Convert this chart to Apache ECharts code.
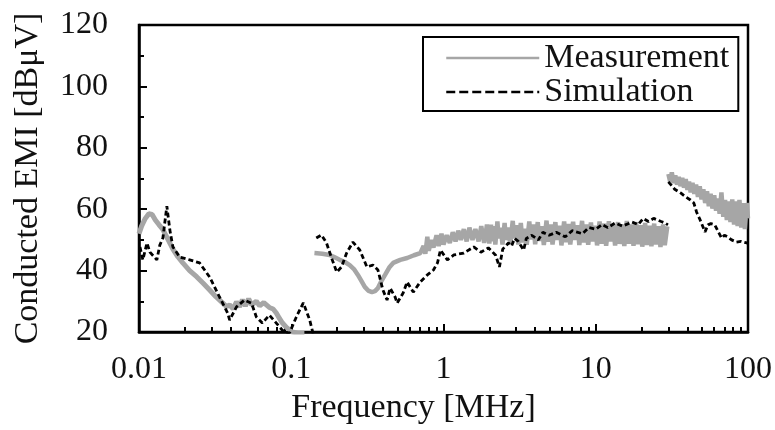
<!DOCTYPE html>
<html>
<head>
<meta charset="utf-8">
<script src="https://cdn.jsdelivr.net/npm/echarts@6/dist/echarts.min.js"></script>
<style>
  html, body { margin: 0; padding: 0; background: #fff; }
  #chart { width: 775px; height: 430px; }
</style>
</head>
<body>
<div id="chart"></div>
<script>
// Conducted EMI spectra: [frequency in MHz, level in dBuV]
// Measured spectrum, three receiver bands
const measLow = [
  [0.0100, 52], [0.0104, 54.5], [0.0110, 57], [0.0116, 58.5], [0.0122, 58.3],
  [0.0128, 56.5], [0.0135, 55], [0.0143, 53.5], [0.0152, 51], [0.0167, 47],
  [0.0180, 44.5], [0.0194, 42.5], [0.0215, 40], [0.0239, 38], [0.0265, 35.8],
  [0.0291, 33.7], [0.0320, 31.5], [0.0354, 29.5], [0.0375, 28.3], [0.0394, 28.8],
  [0.0415, 27.5], [0.0437, 29.8], [0.0458, 28.2], [0.0478, 30.5], [0.0500, 28.5],
  [0.0525, 30.8], [0.0550, 28.8], [0.0590, 30], [0.0620, 28.5], [0.0660, 29.6],
  [0.0718, 28], [0.0760, 27.5], [0.0798, 26.2], [0.0835, 24.5], [0.0873, 23],
  [0.0930, 21.5], [0.1015, 20], [0.1100, 19.6], [0.1220, 19.6]
];
const measMid = [
  [0.142, 45.7], [0.160, 45.5], [0.1785, 45.1], [0.190, 44.5], [0.208, 43.5],
  [0.225, 42.8], [0.242, 41.8], [0.258, 40.5], [0.274, 38.6], [0.290, 36.5],
  [0.304, 34.7], [0.320, 33.5], [0.339, 33], [0.355, 33.3], [0.371, 34.3],
  [0.390, 36.5], [0.413, 38.6], [0.440, 41], [0.467, 42.5], [0.520, 43.5],
  [0.577, 44.1], [0.640, 45], [0.704, 45.7], [0.740, 48], [0.760, 45.5],
  [0.783, 51], [0.800, 46.5], [0.830, 50], [0.859, 47.5], [0.900, 51.5],
  [0.930, 48], [0.970, 52], [1.00, 48.5], [1.05, 51.5], [1.10, 49],
  [1.15, 52.5], [1.20, 49.5], [1.25, 53], [1.30, 50], [1.36, 53.5],
  [1.42, 49.5], [1.48, 54], [1.55, 50], [1.62, 53.5], [1.70, 49.5],
  [1.77, 54.5], [1.85, 49], [1.93, 55], [2.00, 48.8], [2.05, 55],
  [2.09, 49.6], [2.15, 54.5], [2.19, 48.5], [2.26, 56], [2.30, 50.5],
  [2.38, 54], [2.44, 48.5], [2.52, 55.5], [2.57, 50], [2.68, 54],
  [2.74, 48.7], [2.85, 56.2], [2.91, 50.5], [3.03, 54.8], [3.10, 48.5],
  [3.22, 55.5], [3.30, 49.2], [3.43, 53.6], [3.52, 48.4], [3.66, 56],
  [3.75, 50.2], [3.90, 55], [4.00, 48.6], [4.16, 55.8], [4.27, 49.7],
  [4.44, 54.5], [4.56, 48.3], [4.75, 56.3], [4.86, 49.4], [5.07, 55],
  [5.20, 48.5], [5.43, 55.8], [5.55, 50], [5.80, 54.6], [5.95, 48.2],
  [6.20, 56], [6.36, 49.3], [6.63, 55.2], [6.80, 48.5], [7.10, 55.9],
  [7.28, 50], [7.60, 54.8], [7.80, 48.3], [8.13, 56.2], [8.33, 49.2],
  [8.70, 55], [8.92, 48.4], [9.30, 55.7], [9.52, 49.5], [9.95, 54.6],
  [10.2, 48.2], [10.6, 56], [10.9, 48.8], [11.4, 55.3], [11.7, 48.1],
  [12.2, 56.1], [12.5, 49.5], [13.0, 54.8], [13.4, 48.2], [14.0, 55.8],
  [14.4, 48.7], [15.0, 55], [15.4, 48], [16.0, 56.2], [16.5, 48.8],
  [17.2, 55], [17.7, 48.1], [18.4, 55.8], [18.9, 48.6], [19.7, 54.8],
  [20.2, 47.8], [21.1, 55.5], [21.6, 48.4], [22.6, 54.6], [23.2, 47.9],
  [24.2, 55.3], [24.8, 48.5], [25.9, 54.5], [26.6, 47.7], [27.7, 55],
  [28.4, 48.3], [29.5, 54.4]
];
const measHigh = [
  [30.0, 71.5], [30.8, 69], [31.6, 72], [32.4, 68.5], [33.3, 71],
  [34.2, 68], [35.1, 70.5], [36.0, 67.5], [37.0, 70.2], [38.0, 67],
  [39.0, 69.8], [40.0, 66.3], [41.0, 69], [42.0, 65.5], [43.2, 68.6],
  [44.4, 65], [45.6, 68], [46.9, 64], [48.2, 67.5], [49.5, 63.2],
  [50.9, 66.5], [52.3, 62], [53.8, 65.8], [55.3, 61], [56.8, 65],
  [58.4, 60.2], [60.0, 64.5], [61.7, 59.5], [63.4, 63.5], [65.1, 58.5],
  [66.9, 65.5], [68.8, 57.5], [70.7, 63], [72.6, 56.5], [74.6, 62.5],
  [76.7, 55.8], [78.8, 63.2], [81.0, 55], [83.2, 62.5], [85.5, 54.5],
  [87.9, 63], [90.3, 54], [92.8, 62], [95.4, 53.5], [98.0, 62], [100, 57]
];

// Simulated spectrum, same bands
const simLow = [
  [0.01015, 47.7], [0.0106, 43.5], [0.01128, 49], [0.0118, 46], [0.0131, 43.5],
  [0.0137, 48.3], [0.01435, 50.6], [0.01524, 61], [0.01595, 53.2], [0.0167, 47.7],
  [0.01853, 44.4], [0.0215, 43.5], [0.0250, 42.5], [0.0291, 37.9], [0.0338, 31.4],
  [0.0382, 26.2], [0.0394, 23.9], [0.0437, 28.2], [0.0493, 30.4], [0.0548, 29.4],
  [0.0590, 24.9], [0.0646, 22.9], [0.0718, 25.5], [0.0798, 22.9], [0.0873, 20.6],
  [0.0970, 19.5], [0.1080, 24.9], [0.1200, 29.5], [0.1320, 24], [0.1400, 19]
];
const simMid = [
  [0.146, 50.6], [0.158, 51.6], [0.1705, 49], [0.184, 44.1], [0.199, 39.5],
  [0.214, 41.2], [0.231, 45.7], [0.254, 49.3], [0.282, 46.7], [0.314, 41.2],
  [0.344, 41.8], [0.371, 40.2], [0.400, 33.7], [0.426, 30.4], [0.446, 34.3],
  [0.481, 31.4], [0.496, 29.4], [0.543, 32.7], [0.577, 36.3], [0.633, 33],
  [0.704, 36.3], [0.783, 38.6], [0.859, 40.2], [0.913, 42.5], [0.955, 46.7],
  [1.06, 43.5], [1.17, 45.1], [1.36, 45.7], [1.58, 47.7], [1.76, 46],
  [1.97, 47.4], [2.06, 46.5], [2.20, 45], [2.33, 41.2], [2.45, 47],
  [2.67, 49], [2.80, 48], [2.93, 50.5], [3.10, 49.5], [3.36, 46.7],
  [3.50, 50.5], [3.80, 51.5], [4.20, 50], [4.50, 52.5], [4.94, 51.5],
  [5.50, 52.5], [6.31, 51], [7.00, 53], [8.19, 52], [9.00, 54],
  [10.0, 53.5], [11.0, 55], [12.0, 54], [13.4, 55.5], [15.0, 54.5],
  [17.3, 55.8], [19.0, 55], [20.5, 57], [22.2, 56], [24.0, 57],
  [26.9, 56], [28.5, 55.5], [29.8, 54.9]
];
const simHigh = [
  [30.0, 68.9], [33.0, 66.5], [36.1, 65.3], [39.0, 64], [41.9, 63],
  [44.1, 62], [46.0, 59], [48.5, 56.5], [52.2, 52.6], [54.6, 54.9],
  [57.0, 55.3], [60.5, 54.9], [64.0, 52.5], [67.1, 50.6], [70.0, 51.5],
  [73.4, 51], [78.0, 50], [83.8, 49.3], [90.0, 49.5], [98.5, 49], [100, 48.8]
];

// Intermediate (2..9 per decade) tick positions on the frequency axis
const xMinorTicks = [
  0.02, 0.03, 0.04, 0.05, 0.06, 0.07, 0.08, 0.09,
  0.2, 0.3, 0.4, 0.5, 0.6, 0.7, 0.8, 0.9,
  2, 3, 4, 5, 6, 7, 8, 9,
  20, 30, 40, 50, 60, 70, 80, 90
];

const FONT = "'Liberation Serif', 'Times New Roman', serif";
const GRAY = '#a6a6a6';
const INK = '#111';

function measSeries(data, width) {
  return {
    name: 'Measurement', type: 'line', data: data,
    symbol: 'none', showSymbol: false, z: 2,
    lineStyle: { color: GRAY, width: width },
    itemStyle: { color: GRAY }
  };
}
function simSeries(data) {
  return {
    name: 'Simulation', type: 'line', data: data,
    symbol: 'none', showSymbol: false, z: 3,
    lineStyle: { color: '#000', width: 2.8, type: [5, 3] },
    itemStyle: { color: '#000' }
  };
}

// legend swatches are plain line samples, no marker
const noMarker = { color: 'transparent', borderColor: 'transparent', borderWidth: 0, opacity: 0 };

const chart = echarts.init(document.getElementById('chart'));
chart.setOption({
  animation: false,
  backgroundColor: '#fff',
  grid: {
    left: 139, right: 25, top: 25, bottom: 98,
    show: true, borderColor: '#000', borderWidth: 2.5, backgroundColor: 'transparent'
  },
  legend: {
    left: 423, top: 37, orient: 'vertical',
    padding: [4, 9, 2, 22], itemGap: 0,
    itemWidth: 93, itemHeight: 14,
    backgroundColor: '#fff', borderColor: '#000', borderWidth: 2,
    itemStyle: noMarker,
    textStyle: { fontFamily: FONT, fontSize: 34, color: INK, lineHeight: 34 },
    data: [
      { name: 'Measurement', itemStyle: noMarker, lineStyle: { width: 2.5 } },
      { name: 'Simulation', itemStyle: noMarker, lineStyle: { width: 2.5, type: [9, 4] } }
    ]
  },
  xAxis: [
    {
      type: 'log', logBase: 10, min: 0.01, max: 100,
      name: 'Frequency [MHz]', nameLocation: 'middle', nameGap: 54,
      nameTextStyle: { fontFamily: FONT, fontSize: 34, color: INK, padding: [0, 60, 0, 0] },
      axisLine: { lineStyle: { color: '#000', width: 2.5 } },
      axisTick: { inside: true, length: 8, lineStyle: { color: '#000', width: 2 } },
      axisLabel: {
        fontFamily: FONT, fontSize: 32, color: INK, margin: 22,
        formatter: function (v) { return String(+Number(v).toPrecision(6)); }
      },
      splitLine: { show: false }
    },
    {
      type: 'log', logBase: 10, min: 0.01, max: 100, position: 'bottom',
      axisLine: { show: false },
      axisTick: { inside: true, length: 5, customValues: xMinorTicks, lineStyle: { color: '#000', width: 2 } },
      axisLabel: { show: false },
      splitLine: { show: false }
    }
  ],
  yAxis: {
    type: 'value', min: 20, max: 120, interval: 20,
    name: 'Conducted EMI [dB\u03bcV]', nameLocation: 'middle', nameGap: 94,
    nameTextStyle: { fontFamily: FONT, fontSize: 34, color: INK },
    axisLine: { show: true, lineStyle: { color: '#000', width: 2.5 } },
    axisTick: { show: true, inside: true, length: 8, lineStyle: { color: '#000', width: 2 } },
    minorTick: { show: true, splitNumber: 2, length: 5, lineStyle: { color: '#000', width: 2 } },
    axisLabel: { fontFamily: FONT, fontSize: 32, color: INK, margin: 31 },
    splitLine: { show: false },
    minorSplitLine: { show: false }
  },
  series: [
    measSeries(measLow, 5), measSeries(measMid, 4.5), measSeries(measHigh, 4.5),
    simSeries(simLow), simSeries(simMid), simSeries(simHigh)
  ]
});
</script>
</body>
</html>
